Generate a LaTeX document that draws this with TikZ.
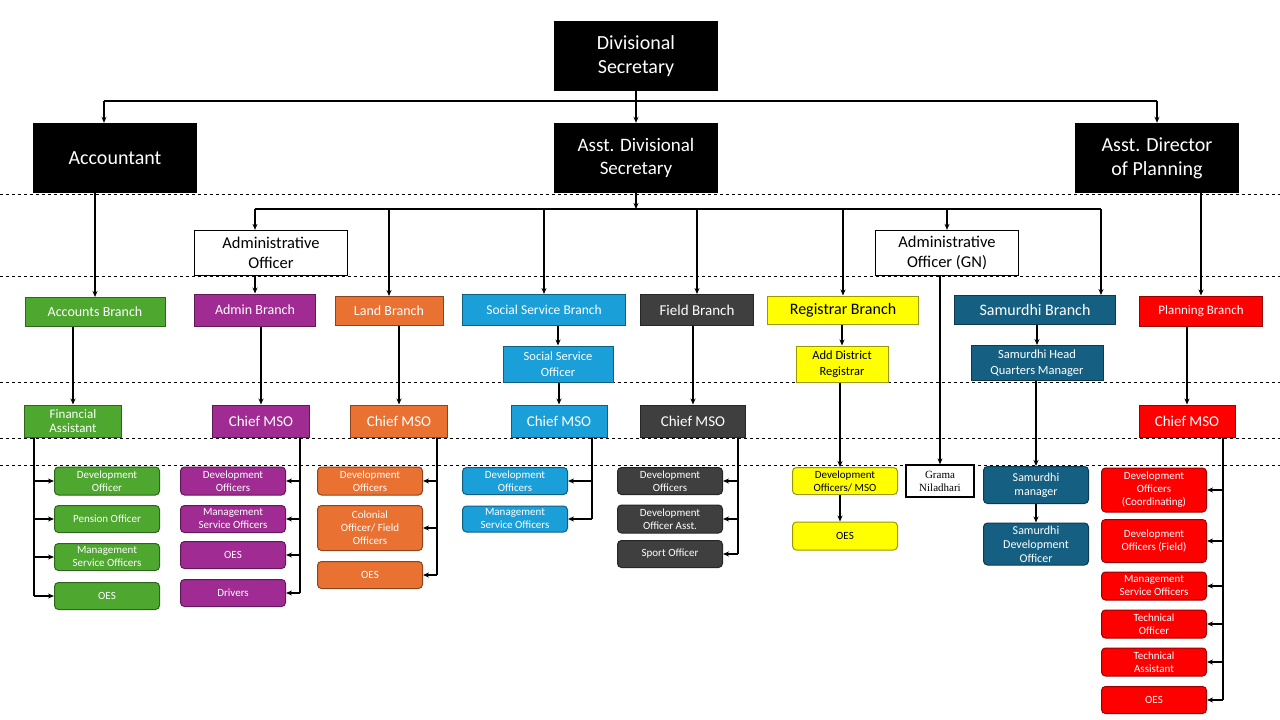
\documentclass[tikz,border=0pt]{standalone}
\usepackage{fontspec}
\setmainfont{Carlito}
\newfontfamily\tms{Liberation Serif}
\usetikzlibrary{arrows.meta}
\definecolor{cgreen}{HTML}{4EA72E}
\definecolor{cpurple}{HTML}{A02B93}
\definecolor{corange}{HTML}{E97132}
\definecolor{cblue}{HTML}{1A9FD9}
\definecolor{cdark}{HTML}{3F3F3F}
\definecolor{cyell}{HTML}{FFFF00}
\definecolor{cteal}{HTML}{156082}
\definecolor{cred}{HTML}{FF0000}
\begin{document}
\begin{tikzpicture}[x=1pt,y=-1pt,
  arr/.style={-{Stealth[length=6pt,width=5pt]},line width=1.3pt},
  ln/.style={line width=1.3pt},
  sp/.style={line width=2.6pt},
  sarr/.style={-{Stealth[length=6pt,width=5pt]},line width=2pt},
  blk/.style={fill=black,text=white,minimum width=164pt,minimum height=70pt,align=center,font=\fontsize{20}{24}\selectfont,inner sep=2pt},
  wht/.style={draw,line width=1.3pt,fill=white,align=center,font=\fontsize{16.5}{20}\selectfont,inner sep=1pt},
  br/.style={draw=#1!60!black,line width=1pt,fill=#1,text=white,align=center,inner sep=1pt},
  rb/.style={br=#1,rounded corners=4pt,font=\fontsize{11}{13}\selectfont,minimum width=105pt},
  dsh/.style={dashed,line width=0.6pt}]
\useasboundingbox (0,0) rectangle (1280,720);
\foreach \y in {194,276,382,438,465} \draw[dsh] (0,\y) -- (1280,\y);
% top
\node[blk] (ds) at (636,56) {Divisional\\Secretary};
\node[blk] (acc) at (115,158) {Accountant};
\node[blk,font=\fontsize{19}{23}\selectfont] (ads) at (636,158) {Asst. Divisional\\Secretary};
\node[blk] (adp) at (1157,158) {Asst. Director\\of Planning};
\coordinate (b1) at (104,101); \coordinate (b2) at (1157,101);
\draw[ln] (ds.south) -- (ds.south |- b1);
\draw[ln] (b1) -- (b2);
\draw[arr] (b1) -- (b1 |- acc.north);
\draw[arr] (b2) -- (adp.north);
\draw[arr] (ds.south |- b1) -- (ads.north);
% level 2
\node[wht,minimum width=153pt,minimum height=45pt] (ao) at (271,253) {Administrative\\Officer};
\node[wht,minimum width=143pt,minimum height=45pt] (aogn) at (947,253) {Administrative\\Officer (GN)};
\node[br=cgreen,minimum width=140pt,minimum height=29pt,font=\fontsize{14}{16}\selectfont] (accb) at (95,312) {Accounts Branch};
\node[br=cpurple,minimum width=121pt,minimum height=32pt,font=\fontsize{14}{16}\selectfont] (admb) at (255,310) {Admin Branch};
\node[br=corange,minimum width=108pt,minimum height=29pt,font=\fontsize{14}{16}\selectfont] (lb) at (389,311) {Land Branch};
\node[br=cblue,minimum width=163pt,minimum height=31pt,font=\fontsize{13.5}{16}\selectfont] (ssb) at (544,310) {Social Service Branch};
\node[br=cdark,minimum width=113pt,minimum height=31pt,font=\fontsize{15}{16}\selectfont] (fb) at (697,310) {Field Branch};
\node[br=cyell,text=black,minimum width=151pt,minimum height=28pt,font=\fontsize{16}{18}\selectfont] (rgb) at (843,310) {Registrar Branch};
\node[br=cteal,minimum width=161pt,minimum height=29pt,font=\fontsize{16}{18}\selectfont] (smb) at (1035,310) {Samurdhi Branch};
\node[br=cred,minimum width=123pt,minimum height=30pt,font=\fontsize{13}{16}\selectfont] (plb) at (1201,311) {Planning Branch};
\coordinate (m1) at (255,209); \coordinate (m2) at (1101,209);
\draw[ln] (m1) -- (m2);
\draw[arr] (ads.south) -- (ads.south |- m1);
\draw[arr] (m1) -- (ao.north -| m1);
\draw[arr] (lb.north |- m1) -- (lb.north);
\draw[arr] (ssb.north |- m1) -- (ssb.north);
\draw[arr] (fb.north |- m1) -- (fb.north);
\draw[arr] (rgb.north |- m1) -- (rgb.north);
\draw[arr] (aogn.north |- m1) -- (aogn.north);
\draw[arr] (m2) -- (smb.north -| m2);
\draw[arr] (accb.north |- acc.south) -- (accb.north);
\draw[arr] (plb.north |- adp.south) -- (plb.north);
\draw[arr] (ao.south -| admb.north) -- (admb.north);
% level 3
\node[br=cgreen,minimum width=97pt,minimum height=32pt,font=\fontsize{13}{14}\selectfont] (fa) at (73,421) {Financial\\Assistant};
\node[br=cblue,minimum width=110pt,minimum height=36pt,font=\fontsize{12.5}{16}\selectfont] (sso) at (558,364) {Social Service\\Officer};
\node[br=cyell,text=black,minimum width=92pt,minimum height=36pt,font=\fontsize{12.5}{16}\selectfont] (adr) at (842,364) {Add District\\Registrar};
\node[br=cteal,minimum width=132pt,minimum height=35pt,font=\fontsize{12.5}{16}\selectfont] (shq) at (1037,363) {Samurdhi Head\\Quarters Manager};
\node[br=cpurple,minimum width=97pt,minimum height=32pt,font=\fontsize{15}{16}\selectfont] (c1) at (261,421) {Chief MSO};
\node[br=corange,minimum width=97pt,minimum height=32pt,font=\fontsize{15}{16}\selectfont] (c2) at (399,421) {Chief MSO};
\node[br=cblue,minimum width=96pt,minimum height=32pt,font=\fontsize{15}{16}\selectfont] (c3) at (559,421) {Chief MSO};
\node[br=cdark,minimum width=105pt,minimum height=32pt,font=\fontsize{15}{16}\selectfont] (c4) at (693,421) {Chief MSO};
\node[br=cred,minimum width=96pt,minimum height=32pt,font=\fontsize{15}{16}\selectfont] (c5) at (1187,421) {Chief MSO};
\draw[arr] (accb.south -| fa.north) -- (fa.north);
\draw[arr] (admb.south -| c1.north) -- (c1.north);
\draw[arr] (lb.south -| c2.north) -- (c2.north);
\draw[arr] (ssb.south -| sso.north) -- (sso.north);
\draw[arr] (sso.south -| c3.north) -- (c3.north);
\draw[arr] (fb.south -| c4.north) -- (c4.north);
\draw[arr] (rgb.south -| adr.north) -- (adr.north);
\draw[arr] (smb.south -| shq.north) -- (shq.north);
\draw[arr] (plb.south -| c5.north) -- (c5.north);
% bottom boxes
\node[rb=cgreen,minimum height=28pt] (g1) at (107,481) {Development\\Officer};
\node[rb=cgreen,minimum height=27pt] (g2) at (107,519) {Pension Officer};
\node[rb=cgreen,minimum height=27pt] (g3) at (107,557) {Management\\Service Officers};
\node[rb=cgreen,minimum height=27pt] (g4) at (107,596) {OES};
\node[rb=cpurple,minimum height=28pt] (p1) at (233,481) {Development\\Officers};
\node[rb=cpurple,minimum height=27pt] (p2) at (233,519) {Management\\Service Officers};
\node[rb=cpurple,minimum height=27pt] (p3) at (233,555) {OES};
\node[rb=cpurple,minimum height=27pt] (p4) at (233,593) {Drivers};
\node[rb=corange,minimum height=28pt] (o1) at (370,481) {Development\\Officers};
\node[rb=corange,minimum height=45pt] (o2) at (370,528) {Colonial\\Officer/ Field\\Officers};
\node[rb=corange,minimum height=27pt] (o3) at (370,575) {OES};
\node[rb=cblue,minimum height=27pt] (s1) at (515,481) {Development\\Officers};
\node[rb=cblue,minimum height=26pt] (s2) at (515,519) {Management\\Service Officers};
\node[rb=cdark,minimum height=27pt] (f1) at (670,481) {Development\\Officers};
\node[rb=cdark,minimum height=28pt] (f2) at (670,519) {Development\\Officer Asst.};
\node[rb=cdark,minimum height=27pt] (f3) at (670,554) {Sport Officer};
\node[rb=cyell,text=black,minimum height=27pt] (y1) at (845,481) {Development\\Officers/ MSO};
\node[rb=cyell,text=black,minimum height=28pt] (y2) at (845,536) {OES};
\node[draw,line width=1.3pt,minimum width=68pt,minimum height=32pt,align=center,inner sep=1pt,font=\tms\fontsize{11}{13}\selectfont] (gn) at (940,481) {Grama\\Niladhari};
\node[rb=cteal,minimum height=37pt,font=\fontsize{12}{14}\selectfont] (t1) at (1036,485) {Samurdhi\\manager};
\node[rb=cteal,minimum height=42pt,font=\fontsize{12}{14}\selectfont] (t2) at (1036,544) {Samurdhi\\Development\\Officer};
\node[rb=cred,minimum height=44pt] (r1) at (1154,490) {Development\\Officers\\(Coordinating)};
\node[rb=cred,minimum height=43pt] (r2) at (1154,541) {Development\\Officers (Field)};
\node[rb=cred,minimum height=28pt] (r3) at (1154,586) {Management\\Service Officers};
\node[rb=cred,minimum height=28pt] (r4) at (1154,624) {Technical\\Officer};
\node[rb=cred,minimum height=28pt] (r5) at (1154,662) {Technical\\Assistant};
\node[rb=cred,minimum height=27pt] (r6) at (1154,700) {OES};
% single arrows
\draw[arr] ([xshift=-5pt]adr.south -| y1.north) -- ([xshift=-5pt]y1.north);
\draw[arr] ([xshift=-5pt]y1.south) -- ([xshift=-5pt]y2.north);
\draw[arr] (gn.north |- aogn.south) -- (gn.north);
\draw[arr] (shq.south -| t1.north) -- (t1.north);
\draw[arr] (t1.south) -- (t2.north);
% spines
\coordinate (k1) at (34,0); \coordinate (k2) at (300,0); \coordinate (k3) at (437,0);
\coordinate (k4) at (592,0); \coordinate (k5) at (738,0); \coordinate (k6) at (1223,0);
\draw[sp] (fa.south -| k1) -- (g4.west -| k1);
\foreach \n in {g1,g2,g3,g4} \draw[sarr] (\n.west -| k1) -- (\n.west);
\draw[sp] (c1.south -| k2) -- (p4.east -| k2);
\foreach \n in {p1,p2,p3,p4} \draw[sarr] (\n.east -| k2) -- (\n.east);
\draw[sp] (c2.south -| k3) -- (o3.east -| k3);
\foreach \n in {o1,o2,o3} \draw[sarr] (\n.east -| k3) -- (\n.east);
\draw[sp] (c3.south -| k4) -- (s2.east -| k4);
\foreach \n in {s1,s2} \draw[sarr] (\n.east -| k4) -- (\n.east);
\draw[sp] (c4.south -| k5) -- (f3.east -| k5);
\foreach \n in {f1,f2,f3} \draw[sarr] (\n.east -| k5) -- (\n.east);
\draw[sp] (c5.south -| k6) -- (r6.east -| k6);
\foreach \n in {r1,r2,r3,r4,r5,r6} \draw[sarr] (\n.east -| k6) -- (\n.east);
\end{tikzpicture}
\end{document}
